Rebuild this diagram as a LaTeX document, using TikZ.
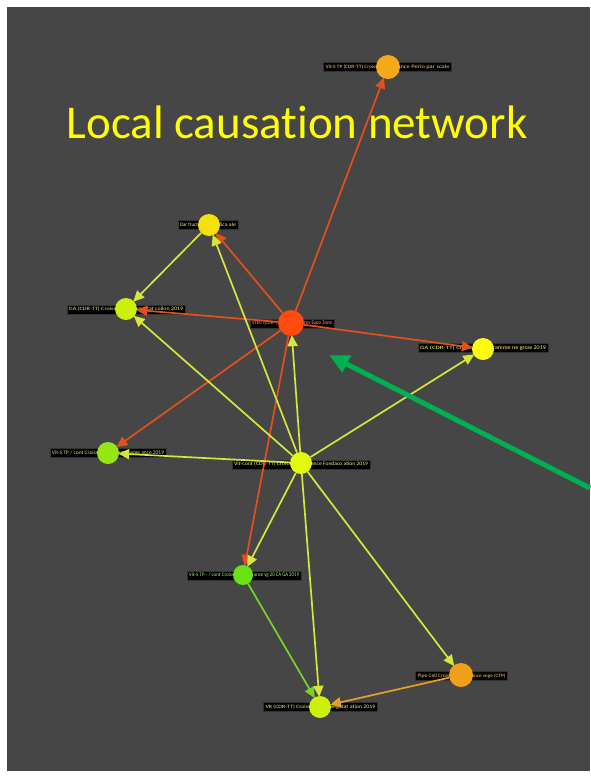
\documentclass[tikz,border=0pt]{standalone}
\usepackage{fontspec}
\usepackage{graphicx}
\setmainfont[RawFeature=-liga]{Carlito}
\usetikzlibrary{arrows.meta}
\pgfdeclarelayer{bg}
\pgfdeclarelayer{edges}
\pgfsetlayers{bg,edges,main}
\definecolor{panel}{RGB}{70,70,70}
\definecolor{cA}{RGB}{245,170,25}
\definecolor{cB}{RGB}{245,225,10}
\definecolor{cC}{RGB}{205,240,10}
\definecolor{cD}{RGB}{255,75,15}
\definecolor{cE}{RGB}{255,250,15}
\definecolor{cF}{RGB}{150,230,20}
\definecolor{cG}{RGB}{225,250,10}
\definecolor{cH}{RGB}{105,225,20}
\definecolor{cI}{RGB}{240,160,25}
\definecolor{cJ}{RGB}{205,240,10}
\definecolor{eRed}{RGB}{228,80,28}
\definecolor{eYel}{RGB}{215,230,60}
\definecolor{eGrn}{RGB}{120,210,40}
\definecolor{eOra}{RGB}{230,160,40}
\definecolor{bigGreen}{RGB}{0,176,80}
\definecolor{titleY}{RGB}{255,255,0}
% #1 half width, #2 left text, #3 right text
\newcommand{\lbltext}[3]{\resizebox{#1}{3.6pt}{#2}\hspace{20pt}\resizebox{#1}{3.6pt}{#3}}
\tikzset{
  dot/.style={circle, fill=#1, minimum size=22pt, inner sep=0pt},
  lbl/.style={rectangle, fill=black, draw=black!60!gray, line width=0.6pt, inner xsep=2pt, inner ysep=0pt, minimum height=9pt, text=#1!55!white, font=\fontsize{5}{5}\selectfont},
  edge/.style={draw=#1, line width=1.7pt, -{Triangle[length=11pt,width=10pt,fill=#1]}, shorten >=-1pt},
}
\begin{document}
\begin{tikzpicture}[x=1pt,y=-1pt]
\useasboundingbox (0,0) rectangle (590,780);
\begin{pgfonlayer}{bg}
\fill[white] (0,0) rectangle (590,780);
\fill[panel] (7,7) rectangle (590,771);
\node[lbl=cA] (l1) at (387.5,67) {\lbltext{52pt}{Vit-S TP (CDR-TT) Croiss}{ance Perio par scale}};
\node[lbl=cB] (l2) at (208,225) {\lbltext{18pt}{Dar fruct}{ifica ale}};
\node[lbl=cC] (l3) at (126,309.5) {\lbltext{47pt}{GA (CDR-TT) Croiss}{vegetat collon 2019}};
\node[lbl=cD] (l4) at (292,323.5) {\lbltext{30pt}{STEC (CDR-TT)}{Prev Expo Zone}};
\node[lbl=cE] (l5) at (483,348) {\lbltext{53pt}{GA (CDR-TT) Croiss}{ramme ne grow 2019}};
\node[lbl=cF] (l6) at (108,453) {\lbltext{46pt}{Vit-S TP / cont Croiss}{ance vege ance 2019}};
\node[lbl=cG] (l7) at (301,464.5) {\lbltext{57pt}{Vit-cont (CDR-TT) Croiss}{ance Fondaco ation 2019}};
\node[lbl=cH] (l8) at (244,575.5) {\lbltext{45pt}{Vit-S TP - / cont Croiss}{ance vg 20 CA GA 2019}};
\node[lbl=cI] (l9) at (461.5,676) {\lbltext{34pt}{Pipe Cell Croiss}{ance vege (CTP)}};
\node[lbl=cJ] (l10) at (320.5,707) {\lbltext{45pt}{VR (CDR-TT) Croiss}{vegetat ation 2019}};
\end{pgfonlayer}
\node[dot=cA, minimum size=24pt] (n1) at (388,67) {};
\node[dot=cB] (n2) at (209,225) {};
\node[dot=cC] (n3) at (126,309) {};
\node[dot=cD, minimum size=26pt] (n4) at (291,323) {};
\node[dot=cE] (n5) at (483,349) {};
\node[dot=cF] (n6) at (108,453) {};
\node[dot=cG] (n7) at (301,463) {};
\node[dot=cH, minimum size=20pt] (n8) at (243,575) {};
\node[dot=cI, minimum size=24pt] (n9) at (461,675) {};
\node[dot=cJ] (n10) at (320,707) {};
\begin{pgfonlayer}{edges}
\draw[edge=eRed] (n4) -- (n1);
\draw[edge=eRed] (n4) -- (n2);
\draw[edge=eRed] (n4) -- (n3);
\draw[edge=eRed] (n4) -- (n5);
\draw[edge=eRed] (n4) -- (n6);
\draw[edge=eRed] (n4) -- (n8);
\draw[edge=eYel] (n2) -- (n3);
\draw[edge=eYel] (n7) -- (n2);
\draw[edge=eYel] (n7) -- (n3);
\draw[edge=eYel] (n7) -- (n4);
\draw[edge=eYel] (n7) -- (n5);
\draw[edge=eYel] (n7) -- (n6);
\draw[edge=eYel] (n7) -- (n8);
\draw[edge=eYel] (n7) -- (n9);
\draw[edge=eYel] (n7) -- (n10);
\draw[edge=eGrn] (n8) -- (n10);
\draw[edge=eOra] (n9) -- (n10);
\end{pgfonlayer}
\node[text=titleY, font=\fontsize{47}{47}\selectfont, anchor=center] (title) at (297,122) {Local causation network};
\coordinate (gs) at (590,488);
\coordinate (ge) at (329,355);
\draw[bigGreen, line width=5pt, -{Triangle[length=20pt,width=18pt]}] (gs) -- (ge);
\end{tikzpicture}
\end{document}
